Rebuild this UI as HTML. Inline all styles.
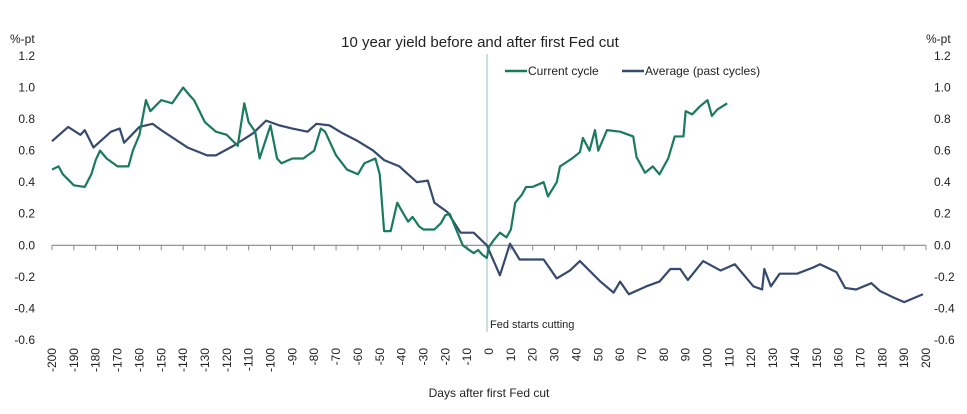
<!DOCTYPE html>
<html><head><meta charset="utf-8"><style>
body{margin:0;background:#fff;}
svg{display:block;font-family:"Liberation Sans",sans-serif;}
</style></head><body>
<svg id="chart" width="967" height="414" viewBox="0 0 967 414">
<line x1="487" y1="54" x2="487" y2="332" stroke="#9cbcbc" stroke-width="1"/>
<text x="480" y="47" text-anchor="middle" font-size="15" fill="#222">10 year yield before and after first Fed cut</text>
<text x="10" y="43" font-size="12" fill="#222">%-pt</text>
<text x="926" y="43" font-size="12" fill="#222">%-pt</text>
<g id="yl"></g>
<g id="yr"></g>
<text x="490" y="328" font-size="11" fill="#222">Fed starts cutting</text>
<g id="xa"></g>
<text x="489" y="397" text-anchor="middle" font-size="12" fill="#222">Days after first Fed cut</text>
<g id="series"></g>
<g>
<line x1="505" y1="71" x2="527" y2="71" stroke="#1a7a5e" stroke-width="2.5"/>
<text x="528" y="75" font-size="12" fill="#222">Current cycle</text>
<line x1="622" y1="71" x2="644" y2="71" stroke="#354a6e" stroke-width="2.5"/>
<text x="645" y="75" font-size="12" fill="#222">Average (past cycles)</text>
</g>
</svg>
<script>
const yTicks=[1.2,1.0,0.8,0.6,0.4,0.2,0.0,-0.2,-0.4,-0.6];
const xTicks=[];for(let d=-200;d<=200;d+=10)xTicks.push(d);
const curDays=[-200,-197,-195,-190,-185,-182,-180,-178,-175,-170,-165,-163,-160,-157,-155,-150,-145,-140,-137,-135,-130,-125,-120,-115,-112,-110,-107,-105,-100,-97,-95,-90,-85,-80,-77,-75,-70,-65,-60,-57,-52,-50,-48,-45,-42,-40,-37,-35,-32,-30,-25,-22,-20,-18,-15,-12,-10,-7,-5,-3,-1,0,2,5,8,10,12,15,17,20,25,27,31,32.5,38,41.6,43,46,48.5,50,54,60,66,67.5,71.4,75,78,82,85,89,90,93,96.5,100,102,104.5,109];
const curVals=[0.48,0.5,0.45,0.38,0.37,0.45,0.54,0.6,0.55,0.5,0.5,0.6,0.7,0.92,0.85,0.92,0.9,1.0,0.95,0.92,0.78,0.72,0.7,0.63,0.9,0.78,0.72,0.55,0.76,0.55,0.52,0.55,0.55,0.6,0.74,0.72,0.57,0.48,0.45,0.52,0.55,0.45,0.09,0.09,0.27,0.22,0.15,0.18,0.12,0.1,0.1,0.14,0.19,0.2,0.1,0.0,-0.02,-0.05,-0.03,-0.06,-0.08,-0.01,0.03,0.08,0.05,0.1,0.27,0.32,0.37,0.37,0.4,0.31,0.4,0.5,0.55,0.59,0.68,0.6,0.73,0.6,0.73,0.72,0.69,0.56,0.46,0.5,0.45,0.55,0.69,0.69,0.85,0.83,0.88,0.92,0.82,0.86,0.9];
const avgDays=[-200,-192.6,-187,-185,-181,-173,-169,-167,-160,-154,-150,-138,-129,-125,-117,-108,-102,-96,-90,-83,-79,-73,-67,-60,-53,-48,-41,-33,-28,-25,-19,-13,-7,-1,5,9.6,14,25,31,37,41.6,51,57,60,64,72,78,83,87.5,91,98,106,112.5,121,125,126,129,133,141,148.5,151.5,159,163,168,175,179,185,190,198.6];
const avgVals=[0.66,0.75,0.7,0.73,0.62,0.72,0.74,0.65,0.75,0.77,0.73,0.62,0.57,0.57,0.63,0.71,0.79,0.76,0.74,0.72,0.77,0.76,0.71,0.66,0.6,0.54,0.5,0.4,0.41,0.27,0.21,0.08,0.08,0.0,-0.19,0.01,-0.09,-0.09,-0.21,-0.16,-0.1,-0.23,-0.3,-0.23,-0.31,-0.26,-0.23,-0.15,-0.15,-0.22,-0.1,-0.16,-0.12,-0.26,-0.28,-0.15,-0.26,-0.18,-0.18,-0.14,-0.12,-0.17,-0.27,-0.28,-0.24,-0.29,-0.33,-0.36,-0.31];
const X=d=>489+d*2.185, Y=v=>245.3-v*157.8;
const NS='http://www.w3.org/2000/svg';
function mk(t,a,p){const e=document.createElementNS(NS,t);for(const k in a)e.setAttribute(k,a[k]);p.appendChild(e);return e;}
const yl=document.getElementById('yl'),yr=document.getElementById('yr'),xa=document.getElementById('xa'),sg=document.getElementById('series');
yTicks.forEach(v=>{
 const t=mk('text',{x:35,y:Y(v)+4,'text-anchor':'end','font-size':12,fill:'#222'},yl);t.textContent=v.toFixed(1);
 
 
 const t2=mk('text',{x:934,y:Y(v)+4,'font-size':12,fill:'#222'},yr);t2.textContent=v.toFixed(1);
 
 
});
const ax=mk('line',{x1:X(-200),x2:X(200),y1:Y(0),y2:Y(0),stroke:'#888','stroke-width':1.2},xa);


xTicks.forEach(d=>{
 const l=mk('line',{x1:X(d),x2:X(d),y1:Y(0),y2:Y(0)+5,stroke:'#888'},xa);
 
 
 const t=mk('text',{x:0,y:0,'text-anchor':'end','font-size':12,fill:'#222',transform:`translate(${X(d)+4},348) rotate(-90)`},xa);t.textContent=d;
 
 
});
function line(ds,vs,c,n){const p=mk('polyline',{points:ds.map((d,i)=>X(d)+','+Y(vs[i])).join(' '),fill:'none',stroke:c,'stroke-width':2.2,'stroke-linejoin':'round'},sg);
 
 }
line(avgDays,avgVals,'#354a6e','average-line');
line(curDays,curVals,'#1a7a5e','current-cycle-line');
</script>
</body></html>
